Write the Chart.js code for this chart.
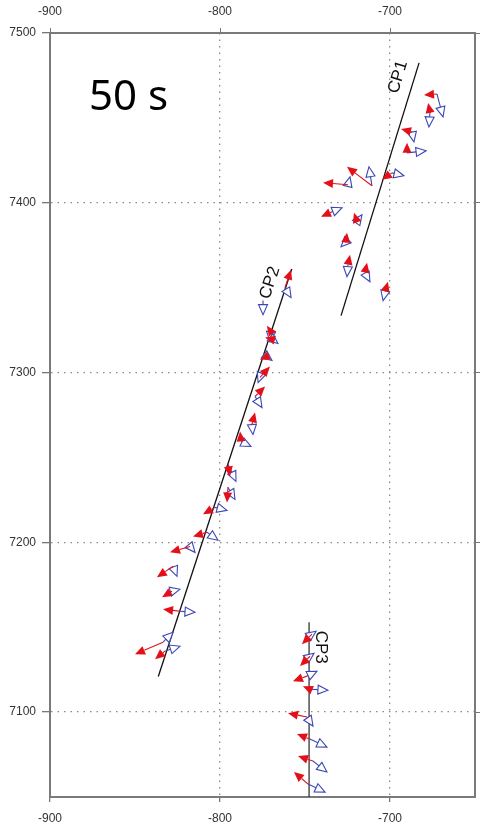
<!DOCTYPE html>
<html>
<head>
<meta charset="utf-8">
<script src="https://cdn.jsdelivr.net/npm/chart.js@4"></script>
<style>
  body { margin: 0; background: #fff; }
  canvas { display: block; }
</style>
</head>
<body>
<canvas id="chartProfil" width="481" height="825"></canvas>
<script>
// axis ticks
const xTicks = [-900, -800, -700];
const yTicks = [7100, 7200, 7300, 7400, 7500];

// profile lines
const cp1X = [-728.8, -682.9];
const cp1Y = [7333.5, 7482.4];
const cp2X = [-836.3, -757.8];
const cp2Y = [7121, 7361];
const cp3X = [-747.6, -747.6];
const cp3Y = [7050, 7153];

// profile labels
const labelText = ["CP1", "CP2", "CP3"];
const labelX = [-695.3, -770.6, -740.6];
const labelY = [7474.1, 7352.9, 7138.2];
const labelAngle = [-73, -72, 90];

// arrow origins
const siteX = [
  -672.4, -676.5, -687.1, -690.0, -698.8, -710.6, -724.7, -734.1, -719.4, -725.9, -724.7, -714.7, -702.9,
  -761.8, -774.7, -770.0, -768.8, -772.4, -776.5, -779.4, -781.2, -787.6, -795.3, -795.3, -802.9, -807.6,
  -817.6, -827.6, -828.2, -823.5, -833.5, -832.4,
  -745.9, -747.1, -748.8, -747.1, -748.8, -747.1, -745.3, -748.2
];
const siteY = [
  7464.1, 7453.5, 7441.8, 7429.4, 7417.6, 7410.0, 7410.6, 7394.7, 7388.8, 7377.1, 7363.5, 7358.8, 7347.6,
  7350.0, 7342.4, 7324.1, 7319.4, 7309.4, 7297.1, 7285.9, 7269.4, 7259.4, 7245.9, 7232.4, 7220.6, 7205.9,
  7197.6, 7185.9, 7171.2, 7159.4, 7141.2, 7135.9,
  7145.9, 7132.9, 7121.2, 7113.5, 7097.1, 7084.1, 7071.2, 7057.6
];
// red arrow tips
const redX = [
  -680.0, -677.6, -693.5, -690.0, -704.7, -725.3, -739.4, -740.6, -721.2, -725.3, -723.5, -713.5, -701.2,
  -758.2, null, -772.4, -773.5, -776.5, -770.6, -773.5, -779.4, -788.2, -794.1, -795.9, -810.0, -815.9,
  -829.4, -837.1, -834.1, -833.5, -850.0, -838.2,
  -751.8, -752.9, -757.1, -751.2, -760.0, -754.7, -754.1, -756.5
];
const redY = [
  7463.5, 7458.8, 7443.5, 7435.3, 7413.5, 7421.2, 7411.8, 7391.8, 7394.1, 7382.4, 7369.4, 7364.7, 7353.5,
  7360.6, null, 7327.6, 7320.6, 7307.6, 7303.5, 7291.8, 7276.5, 7265.3, 7238.8, 7223.5, 7216.5, 7203.5,
  7194.1, 7179.4, 7167.7, 7160.6, 7134.1, 7131.2,
  7140.0, 7127.1, 7118.2, 7115.3, 7099.4, 7087.1, 7074.1, 7064.7
];
// blue arrow tips
const blueX = [
  -668.8, -677.1, -685.9, -678.8, -691.8, -712.4, -723.5, -728.2, -716.5, -728.8, -725.3, -711.8, -704.1,
  -758.2, -774.7, -770.6, -765.9, -769.4, -777.6, -775.3, -780.6, -781.8, -790.6, -791.2, -795.9, -801.2,
  -814.7, -825.3, -823.5, -814.7, -827.6, -823.5,
  -743.5, -744.7, -742.9, -736.5, -745.3, -737.1, -737.1, -738.2
];
const blueY = [
  7450.6, 7444.7, 7435.9, 7430.6, 7415.9, 7421.2, 7415.3, 7397.1, 7392.9, 7374.1, 7356.5, 7353.5, 7342.4,
  7344.1, 7334.1, 7318.2, 7317.1, 7307.1, 7294.1, 7279.4, 7263.5, 7256.5, 7235.9, 7225.3, 7218.8, 7201.2,
  7194.1, 7180.0, 7172.4, 7158.8, 7147.1, 7138.8,
  7147.6, 7134.7, 7124.1, 7112.9, 7091.8, 7079.4, 7064.7, 7052.9
];

const toPoints = (xs, ys) => xs.map((x, i) => ({ x: x, y: ys[i] }));

function drawArrow(ctx, x0, y0, x1, y1, color, filled) {
  const ang = Math.atan2(y1 - y0, x1 - x0);
  const len = 10, half = 4.5;
  const bx = x1 - len * Math.cos(ang), by = y1 - len * Math.sin(ang);
  ctx.strokeStyle = color;
  ctx.lineWidth = 1.1;
  ctx.beginPath();
  ctx.moveTo(x0, y0);
  ctx.lineTo(bx, by);
  ctx.stroke();
  ctx.beginPath();
  ctx.moveTo(x1, y1);
  ctx.lineTo(bx + half * Math.sin(ang), by - half * Math.cos(ang));
  ctx.lineTo(bx - half * Math.sin(ang), by + half * Math.cos(ang));
  ctx.closePath();
  if (filled) {
    ctx.fillStyle = color;
    ctx.fill();
  } else {
    ctx.fillStyle = "#fff";
    ctx.fill();
    ctx.lineWidth = 1.1;
    ctx.stroke();
  }
}

const arrowPlugin = {
  id: "arrows",
  afterDatasetsDraw(chart) {
    const ctx = chart.ctx;
    const sx = chart.scales.x, sy = chart.scales.y;
    ctx.save();
    ctx.lineJoin = "miter";
    for (let i = 0; i < siteX.length; i++) {
      const ox = sx.getPixelForValue(siteX[i]);
      const oy = sy.getPixelForValue(siteY[i]);
      if (blueX[i] !== null) {
        drawArrow(ctx, ox, oy, sx.getPixelForValue(blueX[i]), sy.getPixelForValue(blueY[i]), "#3b47b5", false);
      }
      if (redX[i] !== null) {
        drawArrow(ctx, ox, oy, sx.getPixelForValue(redX[i]), sy.getPixelForValue(redY[i]), "#e3101a", true);
      }
    }
    // profile names
    ctx.fillStyle = "#111";
    ctx.font = "17px 'Liberation Sans', Arial, sans-serif";
    ctx.textAlign = "center";
    ctx.textBaseline = "middle";
    labelText.forEach((t, i) => {
      ctx.save();
      ctx.translate(sx.getPixelForValue(labelX[i]), sy.getPixelForValue(labelY[i]));
      ctx.rotate(labelAngle[i] * Math.PI / 180);
      ctx.fillText(t, 0, 0);
      ctx.restore();
    });
    // time label
    ctx.font = "42px 'Noto Sans', sans-serif";
    ctx.textAlign = "left";
    ctx.textBaseline = "alphabetic";
    ctx.fillStyle = "#000";
    ctx.fillText("50 s", sx.getPixelForValue(-877), sy.getPixelForValue(7454.7));
    ctx.restore();
  },
};

const tickFont = { family: "'Liberation Sans', Arial, sans-serif", size: 12 };
const plain = (v) => String(v);
const setX = (s) => { s.ticks = xTicks.map((v) => ({ value: v })); };
const setY = (s) => { s.ticks = yTicks.map((v) => ({ value: v })); };

new Chart(document.getElementById("chartProfil"), {
  type: "scatter",
  data: {
    datasets: [
      { label: "CP1", data: toPoints(cp1X, cp1Y), showLine: true, borderColor: "#111", borderWidth: 1.3, pointRadius: 0 },
      { label: "CP2", data: toPoints(cp2X, cp2Y), showLine: true, borderColor: "#111", borderWidth: 1.3, pointRadius: 0 },
      { label: "CP3", data: toPoints(cp3X, cp3Y), showLine: true, borderColor: "#333", borderWidth: 1.3, pointRadius: 0 },
    ],
  },
  options: {
    responsive: false,
    animation: false,
    devicePixelRatio: 1,
    layout: { padding: 0 },
    plugins: { legend: { display: false }, tooltip: { enabled: false } },
    scales: {
      x: {
        type: "linear", position: "bottom", min: -900, max: -650,
        afterBuildTicks: setX,
        afterFit: (s) => { s.height = 28; },
        grid: {
          color: (c) => (c.tick && c.tick.value === -900 ? "rgba(0,0,0,0)" : "#8a8a8a"),
          lineWidth: 1.3, tickColor: "#777", tickLength: 5,
        },
        border: { color: "#7a7a7a", width: 2, dash: [1.5, 5] },
        ticks: { color: "#333", font: tickFont, padding: 9, maxRotation: 0, callback: plain },
      },
      x2: {
        type: "linear", position: "top", min: -900, max: -650,
        afterBuildTicks: setX,
        afterFit: (s) => { s.height = 33; },
        grid: { drawOnChartArea: false, tickColor: "#777", tickLength: 5 },
        border: { color: "#7a7a7a", width: 2 },
        ticks: { color: "#333", font: tickFont, padding: 9, maxRotation: 0, callback: plain },
      },
      y: {
        type: "linear", position: "left", min: 7050, max: 7500,
        afterBuildTicks: setY,
        afterFit: (s) => { s.width = 50; },
        grid: {
          color: (c) => (c.tick && c.tick.value === 7500 ? "rgba(0,0,0,0)" : "#8a8a8a"),
          lineWidth: 1.3, tickColor: "#777", tickLength: 8,
        },
        border: { color: "#7a7a7a", width: 2, dash: [1.5, 5] },
        ticks: { color: "#333", font: tickFont, padding: 6, callback: plain },
      },
      y2: {
        type: "linear", position: "right", min: 7050, max: 7500,
        afterBuildTicks: setY,
        afterFit: (s) => { s.width = 6; },
        grid: { drawOnChartArea: false, tickColor: "#777", tickLength: 5 },
        border: { color: "#7a7a7a", width: 2 },
        ticks: { display: false },
      },
    },
  },
  plugins: [arrowPlugin],
});
</script>
</body>
</html>
